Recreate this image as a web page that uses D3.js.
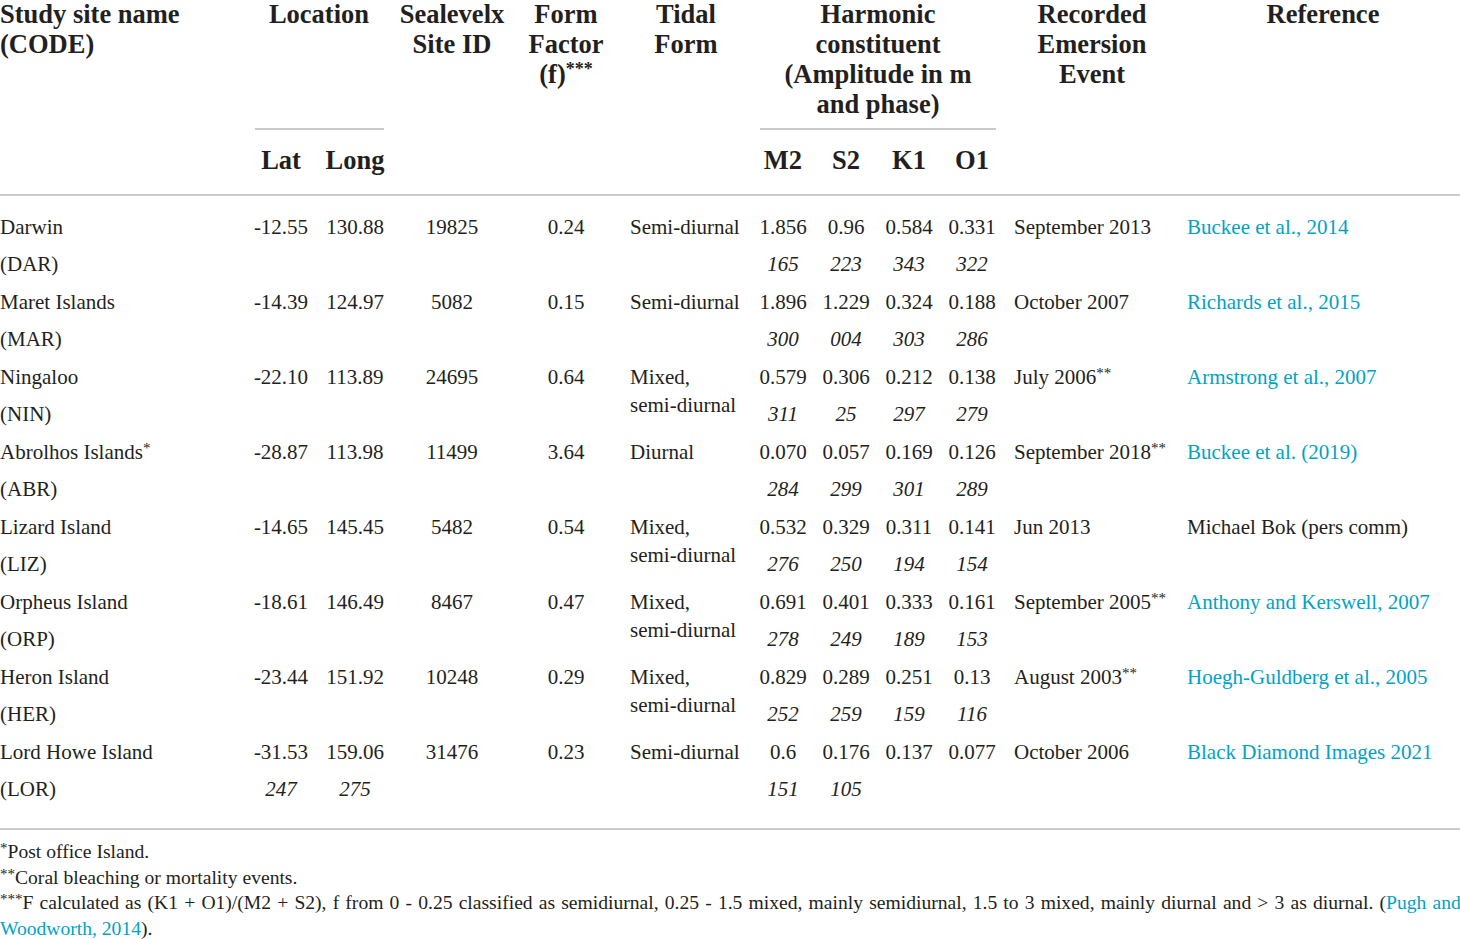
<!DOCTYPE html>
<html><head><meta charset="utf-8">
<script src="https://cdn.jsdelivr.net/npm/d3@7/dist/d3.min.js"></script>
<style>
html,body{margin:0;padding:0;background:#fff;}
svg{display:block;}
text{font-family:"Liberation Serif","DejaVu Serif",serif;fill:#231f20;}
</style></head>
<body>
<script>
// ---- data ----
const sites = ["Darwin","Maret Islands","Ningaloo","Abrolhos Islands*","Lizard Island","Orpheus Island","Heron Island","Lord Howe Island"];
const codes = ["(DAR)","(MAR)","(NIN)","(ABR)","(LIZ)","(ORP)","(HER)","(LOR)"];
const lat = ["-12.55","-14.39","-22.10","-28.87","-14.65","-18.61","-23.44","-31.53"];
const lon = ["130.88","124.97","113.89","113.98","145.45","146.49","151.92","159.06"];
const siteIds = ["19825","5082","24695","11499","5482","8467","10248","31476"];
const formFactor = ["0.24","0.15","0.64","3.64","0.54","0.47","0.29","0.23"];
const tidalForm = ["Semi-diurnal","Semi-diurnal","Mixed,|semi-diurnal","Diurnal","Mixed,|semi-diurnal","Mixed,|semi-diurnal","Mixed,|semi-diurnal","Semi-diurnal"];
const m2Amp = ["1.856","1.896","0.579","0.070","0.532","0.691","0.829","0.6"];
const s2Amp = ["0.96","1.229","0.306","0.057","0.329","0.401","0.289","0.176"];
const k1Amp = ["0.584","0.324","0.212","0.169","0.311","0.333","0.251","0.137"];
const o1Amp = ["0.331","0.188","0.138","0.126","0.141","0.161","0.13","0.077"];
const latPhase = ["","","","","","","","247"];
const lonPhase = ["","","","","","","","275"];
const m2Phase = ["165","300","311","284","276","278","252","151"];
const s2Phase = ["223","004","25","299","250","249","259","105"];
const k1Phase = ["343","303","297","301","194","189","159",""];
const o1Phase = ["322","286","279","289","154","153","116",""];
const events = ["September 2013","October 2007","July 2006**","September 2018**","Jun 2013","September 2005**","August 2003**","October 2006"];
const references = ["Buckee et al., 2014","Richards et al., 2015","Armstrong et al., 2007","Buckee et al. (2019)","Michael Bok (pers comm)","Anthony and Kerswell, 2007","Hoegh-Guldberg et al., 2005","Black Diamond Images 2021"];
const refIsLink = [true,true,true,true,false,true,true,true];
const headers = [
  {key:"site", lines:["Study site name","(CODE)"], anchor:"start"},
  {key:"loc", lines:["Location"]},
  {key:"sid", lines:["Sealevelx","Site ID"]},
  {key:"ff", lines:["Form","Factor","(f)***"]},
  {key:"tidal", lines:["Tidal","Form"]},
  {key:"harm", lines:["Harmonic","constituent","(Amplitude in m","and phase)"]},
  {key:"event", lines:["Recorded","Emersion","Event"]},
  {key:"ref", lines:["Reference"]}
];
const subHeaders = [["lat","Lat"],["lon","Long"],["m2","M2"],["s2","S2"],["k1","K1"],["o1","O1"]];
const footnotes = [
  [{t:"*Post office Island."}],
  [{t:"**Coral bleaching or mortality events."}],
  [{t:"***F calculated as (K1 + O1)/(M2 + S2), f from 0 - 0.25 classified as semidiurnal, 0.25 - 1.5 mixed, mainly semidiurnal, 1.5 to 3 mixed, mainly diurnal and > 3 as diurnal. ("},{t:"Pugh and",link:true}],
  [{t:"Woodworth, 2014",link:true},{t:")."}]
];

// ---- layout ----
const W = 1460, H = 939;
const LINK = "#00a3c4", RULE = "#cacaca";
const colX = d3.scaleOrdinal()
  .domain(["site","loc","sid","ff","tidal","harm","event","ref","lat","lon","m2","s2","k1","o1","tidalL","eventL","refL"])
  .range([0,319,452,566,686,878,1092,1323,281,355,783,846,909,972,630,1014,1187]);
const rowY = d3.scaleLinear().domain([0,1]).range([234,309]); // baseline of first line per row
const sub = 37;

const svg = d3.select("body").append("svg").attr("width",W).attr("height",H);

// header
const hg = svg.append("g").attr("font-weight","bold").attr("font-size",26.5);
headers.forEach(h=>{
  h.lines.forEach((ln,i)=>{
    const t = hg.append("text").attr("x",colX(h.key)).attr("y",23+i*30)
      .attr("text-anchor",h.anchor||"middle");
    const m = ln.match(/^(.*?)(\*+)$/);
    if(m){ t.append("tspan").text(m[1]); t.append("tspan").attr("font-size",18).attr("dy",-8).text(m[2]); }
    else t.text(ln);
  });
});
subHeaders.forEach(([k,l])=>hg.append("text").attr("x",colX(k)).attr("y",169).attr("text-anchor","middle").text(l));

// rules
const rules = [[255,384,129],[760,996,129],[0,W,195],[0,W,829]];
svg.selectAll("line.r").data(rules).join("line").attr("class","r")
  .attr("x1",d=>d[0]).attr("x2",d=>d[1]).attr("y1",d=>d[2]).attr("y2",d=>d[2])
  .attr("stroke",RULE).attr("stroke-width",2);

// body
const bg = svg.append("g").attr("font-size",21);
function put(g,x,y,txt,anchor,opts={}){
  if(!txt) return;
  const t = g.append("text").attr("x",x).attr("y",y).attr("text-anchor",anchor||"middle");
  if(opts.italic) t.attr("font-style","italic");
  if(opts.fill) t.style("fill",opts.fill);
  const m = txt.match(/^(.*?)(\*+)$/);
  if(m){ t.append("tspan").text(m[1]); t.append("tspan").attr("font-size",15).attr("dy",-6).text(m[2]); }
  else t.text(txt);
}
d3.range(sites.length).forEach(i=>{
  const y = rowY(i), y2 = y+sub;
  put(bg,colX("site"),y,sites[i],"start");
  put(bg,colX("site"),y2,codes[i],"start");
  put(bg,colX("lat"),y,lat[i]); put(bg,colX("lon"),y,lon[i]);
  put(bg,colX("lat"),y2,latPhase[i],"middle",{italic:true});
  put(bg,colX("lon"),y2,lonPhase[i],"middle",{italic:true});
  put(bg,colX("sid"),y,siteIds[i]);
  put(bg,colX("ff"),y,formFactor[i]);
  tidalForm[i].split("|").forEach((ln,j)=>put(bg,colX("tidalL"),y+j*28,ln,"start"));
  [["m2",m2Amp,m2Phase],["s2",s2Amp,s2Phase],["k1",k1Amp,k1Phase],["o1",o1Amp,o1Phase]].forEach(([k,a,p])=>{
    put(bg,colX(k),y,a[i]); put(bg,colX(k),y2,p[i],"middle",{italic:true});
  });
  put(bg,colX("eventL"),y,events[i],"start");
  put(bg,colX("refL"),y,references[i],"start",{fill:refIsLink[i]?LINK:null});
});

// footnotes
const fg = svg.append("g").attr("font-size",19.6);
footnotes.forEach((parts,i)=>{
  const t = fg.append("text").attr("x",0).attr("y",858+i*25.5);
  if(i===2) t.attr("word-spacing",1.25);
  parts.forEach(p=>{
    const m = p.t.match(/^(\*+)(.*)$/);
    if(m){ t.append("tspan").attr("font-size",15).attr("dy",-5).text(m[1]); t.append("tspan").attr("dy",5).text(m[2]); }
    else { const s=t.append("tspan").text(p.t); if(p.link) s.style("fill",LINK); }
  });
});
</script>
</body></html>
